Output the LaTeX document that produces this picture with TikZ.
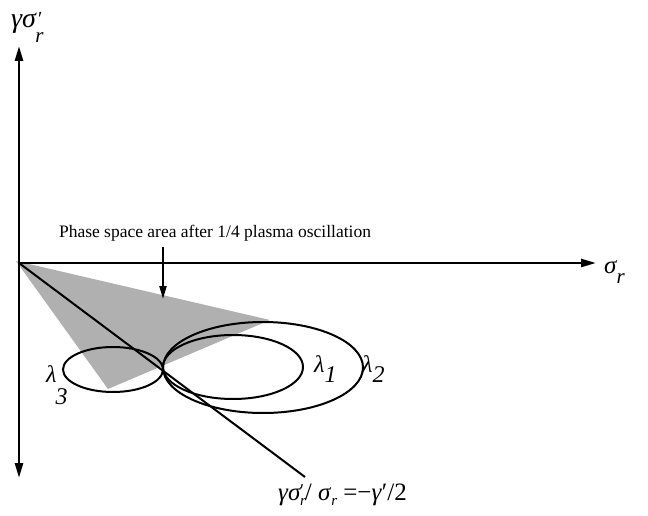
\documentclass[tikz,border=0pt]{standalone}
\usepackage{fontspec}
\usepackage{graphicx}
\setmainfont{Liberation Serif}
\usetikzlibrary{arrows.meta}
\newcommand\lowsub[2]{\raisebox{#1}{\itshape #2}}
\begin{document}
\begin{tikzpicture}[x=1pt,y=-1pt,
  axis/.style={line width=2.6pt},
  curve/.style={line width=2pt},
  lbl/.style={inner sep=0pt,anchor=base west,font=\fontsize{24}{26}\selectfont\itshape},
  small/.style={inner sep=0pt,font=\fontsize{17.5}{19}\selectfont}]
\useasboundingbox (0,0) rectangle (648,516);
% shaded phase space area
\coordinate (A) at (16,261);
\coordinate (B) at (270,320);
\coordinate (C) at (108,389);
\fill[gray!62] (A) -- (B) -- (C) -- cycle;
% axes
\coordinate (O) at (19,263);
\coordinate (Ytop) at (19,46);
\coordinate (Ybot) at (19,478);
\coordinate (Xend) at (596,263);
\draw[axis,{Triangle[length=15pt,width=8pt]}-{Triangle[length=15pt,width=8pt]}] (Ytop) -- (Ybot);
\draw[axis,-{Triangle[length=15pt,width=8pt]}] (O) -- (Xend);
\node[lbl,font=\fontsize{25}{27}\selectfont\itshape] (xl) at (604,273) {σ\lowsub{-10pt}{\fontsize{21}{21}\selectfont r}};
\node[lbl,font=\fontsize{28}{30}\selectfont\itshape] (yl) at (11,28) {γσ\kern2pt\raisebox{2pt}{\upshape\fontsize{20}{20}\selectfont ′}\kern-7pt\lowsub{-15pt}{\fontsize{21}{21}\selectfont r}};
% phase label and arrow
\node[small] (phase) at (215,233) {Phase space area after 1/4 plasma oscillation};
\coordinate (P) at (163,299);
\draw[line width=2pt,-{Triangle[length=13pt,width=7pt]}] (163,247) -- (P);
% ellipses
\draw[curve] (113,369.5) ellipse [x radius=50pt, y radius=22.5pt];
\draw[curve] (233,367) ellipse [x radius=70pt, y radius=32pt];
\draw[curve] (263,367.5) ellipse [x radius=100pt, y radius=45.5pt];
% diagonal line
\coordinate (D) at (305,477);
\draw[curve] (O) -- (D);
% labels
\node[lbl] (l1) at (314,372) {λ\lowsub{-10pt}{1}};
\node[lbl] (l2) at (362,372) {λ\lowsub{-10pt}{2}};
\node[lbl] (l3) at (46,382) {λ\kern-1pt\lowsub{-22pt}{3}};
\node[inner sep=0pt,anchor=base west,font=\fontsize{25}{27}\selectfont] (eq) at (278,500)
  {\textit{γσ}\kern-1pt\raisebox{-5pt}{\fontsize{15}{15}\selectfont\itshape r}\kern-6pt\raisebox{4pt}{\fontsize{18}{18}\selectfont ′}\kern1pt/ \textit{σ}\raisebox{-5pt}{\fontsize{15}{15}\selectfont\itshape r} =−\textit{γ}′/2};
\end{tikzpicture}
\end{document}
